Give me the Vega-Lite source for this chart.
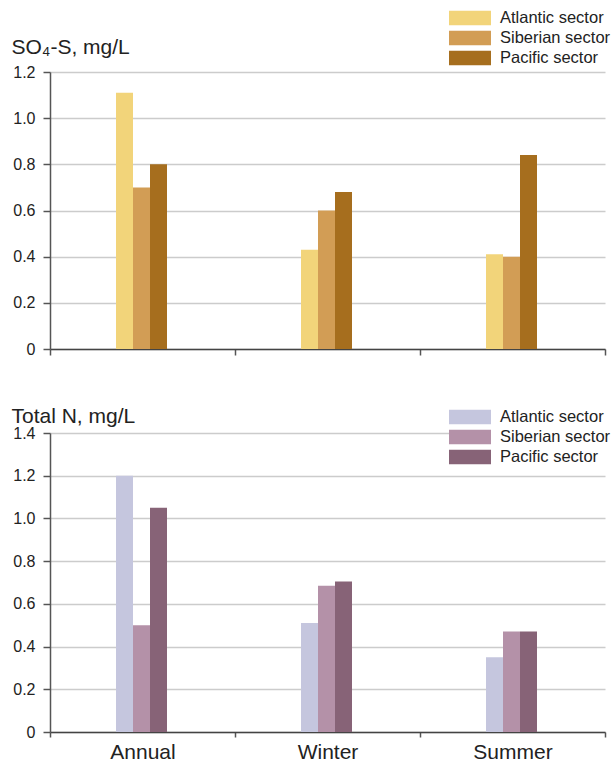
{
  "$schema": "https://vega.github.io/schema/vega-lite/v6.json",
  "autosize": {"type": "pad"},
  "padding": {"left": 11, "top": 7, "right": 4, "bottom": 2},
  "background": "white",
  "config": {
    "font": "Liberation Sans",
    "view": {"stroke": null},
    "axis": {
      "domainColor": "#555555",
      "domainWidth": 1.5,
      "tickColor": "#555555",
      "tickWidth": 1.5,
      "labelColor": "#222222",
      "labelFont": "Liberation Sans",
      "gridColor": "#cccccc",
      "gridWidth": 1.5
    },
    "legend": {
      "symbolType": "M-1.909,-0.659H1.909V0.659H-1.909Z",
      "symbolSize": 484,
      "symbolStrokeWidth": 0,
      "labelFontSize": 16.5,
      "labelColor": "#222222",
      "labelOffset": 19,
      "rowPadding": 0,
      "padding": 0,
      "title": null
    }
  },
  "datasets": {
    "so4": [
      {"period": "Annual", "sector": "Atlantic sector", "value": 1.11},
      {"period": "Annual", "sector": "Siberian sector", "value": 0.70},
      {"period": "Annual", "sector": "Pacific sector", "value": 0.80},
      {"period": "Winter", "sector": "Atlantic sector", "value": 0.43},
      {"period": "Winter", "sector": "Siberian sector", "value": 0.60},
      {"period": "Winter", "sector": "Pacific sector", "value": 0.68},
      {"period": "Summer", "sector": "Atlantic sector", "value": 0.41},
      {"period": "Summer", "sector": "Siberian sector", "value": 0.40},
      {"period": "Summer", "sector": "Pacific sector", "value": 0.84}
    ],
    "totn": [
      {"period": "Annual", "sector": "Atlantic sector", "value": 1.20},
      {"period": "Annual", "sector": "Siberian sector", "value": 0.50},
      {"period": "Annual", "sector": "Pacific sector", "value": 1.05},
      {"period": "Winter", "sector": "Atlantic sector", "value": 0.51},
      {"period": "Winter", "sector": "Siberian sector", "value": 0.685},
      {"period": "Winter", "sector": "Pacific sector", "value": 0.705},
      {"period": "Summer", "sector": "Atlantic sector", "value": 0.35},
      {"period": "Summer", "sector": "Siberian sector", "value": 0.47},
      {"period": "Summer", "sector": "Pacific sector", "value": 0.47}
    ]
  },
  "spacing": 45,
  "resolve": {"scale": {"color": "independent"}, "legend": {"color": "independent"}},
  "vconcat": [
    {
      "width": 555,
      "height": 277,
      "data": {"name": "so4"},
      "mark": {"type": "bar"},
      "encoding": {
        "x": {
          "field": "period", "type": "nominal", "sort": ["Annual", "Winter", "Summer"],
          "scale": {"paddingInner": 0, "paddingOuter": 0},
          "axis": {"title": null, "labels": false, "tickBand": "extent", "tickSize": 6, "grid": false, "domainColor": "#444444"}
        },
        "xOffset": {
          "field": "sector", "type": "nominal", "sort": ["Atlantic sector", "Siberian sector", "Pacific sector"],
          "scale": {"range": [66, 117]}
        },
        "y": {
          "field": "value", "type": "quantitative",
          "scale": {"domain": [0, 1.2], "nice": false},
          "axis": {
            "title": "SO₄-S, mg/L", "titleAngle": 0, "titleAlign": "left", "titleBaseline": "alphabetic", "titleX": -39, "titleY": -19,
            "titleFontSize": 21, "titleFontWeight": "normal", "titleColor": "#222222", "titleFont": "Liberation Sans",
            "values": [0, 0.2, 0.4, 0.6, 0.8, 1.0, 1.2], "labelExpr": "datum.value === 0 ? '0' : format(datum.value, '.1f')", "labelFontSize": 16, "tickSize": 7, "labelPadding": 8}
        },
        "color": {
          "field": "sector", "type": "nominal",
          "scale": {"domain": ["Atlantic sector", "Siberian sector", "Pacific sector"], "range": ["#F2D47A", "#D29D55", "#A66E1E"]},
          "legend": {"orient": "none", "legendX": 409, "legendY": -65}
        }
      }
    },
    {
      "width": 555,
      "height": 299,
      "data": {"name": "totn"},
      "mark": {"type": "bar"},
      "encoding": {
        "x": {
          "field": "period", "type": "nominal", "sort": ["Annual", "Winter", "Summer"],
          "scale": {"paddingInner": 0, "paddingOuter": 0},
          "axis": {"title": null, "labelAngle": 0, "labelFontSize": 21, "labelPadding": 4, "tickBand": "extent", "tickSize": 5, "grid": false, "domainColor": "#444444"}
        },
        "xOffset": {
          "field": "sector", "type": "nominal", "sort": ["Atlantic sector", "Siberian sector", "Pacific sector"],
          "scale": {"range": [68, 119]}
        },
        "y": {
          "field": "value", "type": "quantitative",
          "scale": {"domain": [0, 1.4], "nice": false},
          "axis": {
            "title": "Total N, mg/L", "titleAngle": 0, "titleAlign": "left", "titleBaseline": "alphabetic", "titleX": -39, "titleY": -11,
            "titleFontSize": 21, "titleFontWeight": "normal", "titleColor": "#222222", "titleFont": "Liberation Sans",
            "values": [0, 0.2, 0.4, 0.6, 0.8, 1.0, 1.2, 1.4], "labelExpr": "datum.value === 0 ? '0' : format(datum.value, '.1f')", "labelFontSize": 16, "tickSize": 7, "labelPadding": 8}
        },
        "color": {
          "field": "sector", "type": "nominal",
          "scale": {"domain": ["Atlantic sector", "Siberian sector", "Pacific sector"], "range": ["#C5C6DE", "#B491A8", "#876377"]},
          "legend": {"orient": "none", "legendX": 405, "legendY": -31, "padding": 4, "fillColor": "white"}
        }
      }
    }
  ]
}
